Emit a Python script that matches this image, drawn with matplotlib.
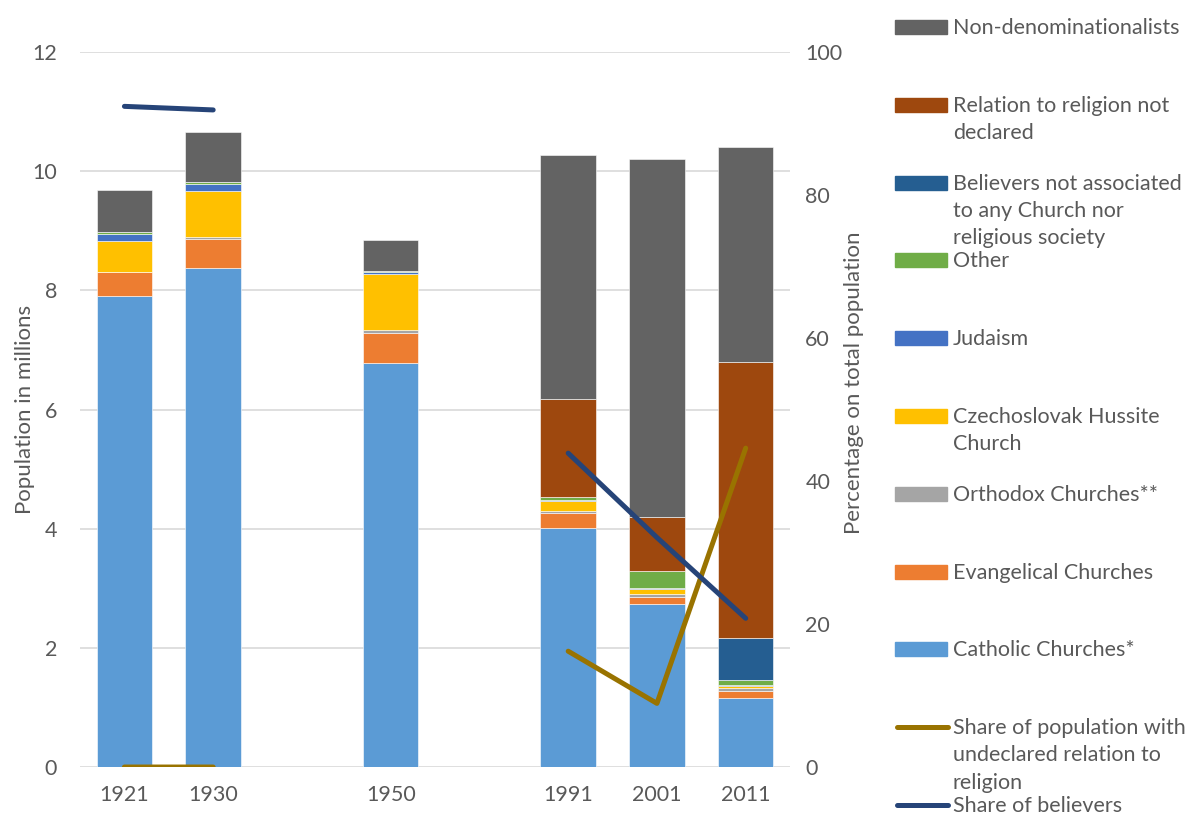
import numpy as np
import matplotlib.pyplot as plt
from matplotlib.patches import Rectangle
from matplotlib.lines import Line2D

plt.rcParams['font.family'] = ['Lato', 'DejaVu Sans']

# census years (empty slots keep the gaps in the time axis)
years = ['1921', '1930', '', '1950', '', '1991', '2001', '2011']

# population in millions, per group (NaN = no census in that slot)
catholic = [7.91, 8.37, np.nan, 6.78, np.nan, 4.02, 2.74, 1.16]
evangelical = [0.39, 0.50, np.nan, 0.51, np.nan, 0.25, 0.12, 0.12]
orthodox = [0.01, 0.03, np.nan, 0.05, np.nan, 0.03, 0.04, 0.05]
hussite = [0.52, 0.77, np.nan, 0.94, np.nan, 0.17, 0.09, 0.03]
judaism = [0.11, 0.12, np.nan, 0.02, np.nan, 0.01, 0.01, 0.01]
other = [0.04, 0.03, np.nan, 0.03, np.nan, 0.05, 0.29, 0.09]
not_associated = [0.0, 0.0, np.nan, 0.0, np.nan, 0.0, 0.0, 0.71]
not_declared = [0.0, 0.0, np.nan, 0.0, np.nan, 1.65, 0.90, 4.63]
non_denom = [0.71, 0.83, np.nan, 0.52, np.nan, 4.10, 6.01, 3.61]

# shares in percent
share_undeclared = [0, 0, np.nan, np.nan, np.nan, 16.2, 8.9, 44.6]
share_believers = [92.4, 91.9, np.nan, np.nan, np.nan, 43.9, 32.1, 20.8]

series = [
    ('Catholic Churches*', catholic, '#5B9BD5'),
    ('Evangelical Churches', evangelical, '#ED7D31'),
    ('Orthodox Churches**', orthodox, '#A5A5A5'),
    ('Czechoslovak Hussite\nChurch', hussite, '#FFC000'),
    ('Judaism', judaism, '#4472C4'),
    ('Other', other, '#70AD47'),
    ('Believers not associated\nto any Church nor\nreligious society', not_associated, '#255E91'),
    ('Relation to religion not\ndeclared', not_declared, '#9E480E'),
    ('Non-denominationalists', non_denom, '#636363'),
]
lines = [
    ('Share of population with\nundeclared relation to\nreligion', share_undeclared, '#997300'),
    ('Share of believers', share_believers, '#264478'),
]

text_col = '#595959'
fig = plt.figure(figsize=(12, 8.14), dpi=100)
ax = fig.add_axes([0.0667, 0.0577, 0.5917, 0.8784])
ax2 = ax.twinx()

x = np.arange(len(years))
mask = np.array([y != '' for y in years])
bottom = np.zeros(len(years))
for name, vals, col in series:
    v = np.nan_to_num(np.array(vals, dtype=float))
    ax.bar(x[mask], v[mask], 0.625, bottom=bottom[mask], color=col,
           edgecolor='white', linewidth=0.4, zorder=2)
    bottom += v

for name, vals, col in lines:
    ax2.plot(x, vals, color=col, lw=3.6, solid_capstyle='round', zorder=3)

ax.set_xlim(-0.5, len(years) - 0.5)
ax.set_ylim(0, 12)
ax.set_yticks(range(0, 13, 2))
ax2.set_ylim(0, 100)
ax2.set_yticks(range(0, 101, 20))
ax.set_xticks(x[mask])
ax.set_xticklabels([y for y in years if y])
ax.grid(axis='y', color='#D9D9D9', lw=1.2, zorder=0)
ax.set_axisbelow(True)
for a in (ax, ax2):
    for s in a.spines.values():
        s.set_visible(False)
    a.tick_params(length=0, labelsize=15.5, colors=text_col)
ax.tick_params(axis='x', pad=13)
ax.tick_params(axis='y', pad=16.5)
ax2.tick_params(axis='y', pad=11)
ax.set_ylabel('Population in millions', fontsize=16, color=text_col, labelpad=-2)
ax2.set_ylabel('Percentage on total population', fontsize=16, color=text_col)
ax2.yaxis.set_label_coords(1.076, 0.537)

# legend on the right, drawn by hand to keep Excel-like spacing
W, H = 1200, 814
legend_items = [(n, c, 'patch') for n, _, c in series[::-1]] + \
               [(n, c, 'line') for n, _, c in lines]
y0, step = 27, 77.8
for i, (name, col, kind) in enumerate(legend_items):
    yc = y0 + step * i
    if kind == 'patch':
        fig.patches.append(Rectangle((895 / W, 1 - (yc + 7) / H), 52 / W, 14 / H,
                                     transform=fig.transFigure, color=col))
    else:
        fig.lines.append(Line2D([897 / W, 948 / W], [1 - yc / H, 1 - yc / H],
                                transform=fig.transFigure, color=col, lw=3.6,
                                solid_capstyle='round'))
    fig.text(953 / W, 1 - (yc - 9) / H, name, fontsize=15.5, color=text_col,
             va='top', ha='left', linespacing=1.45)

fig.savefig('out.png', dpi=100)
